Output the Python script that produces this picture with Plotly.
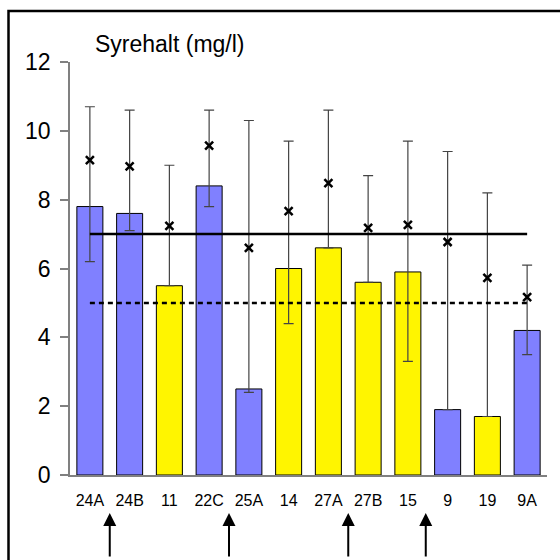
import plotly.graph_objects as go

categories = ["24A", "24B", "11", "22C", "25A", "14", "27A", "27B", "15", "9", "19", "9A"]
bar_values = [7.8, 7.6, 5.5, 8.4, 2.5, 6.0, 6.6, 5.6, 5.9, 1.9, 1.7, 4.2]
upper_values = [10.7, 10.6, 9.0, 10.6, 10.3, 9.7, 10.6, 8.7, 9.7, 9.4, 8.2, 6.1]
lower_values = [6.2, 7.1, 5.5, 7.8, 2.4, 4.4, 6.6, 5.6, 3.3, 1.9, 1.7, 3.5]
mean_values = [9.15, 8.97, 7.24, 9.57, 6.6, 7.67, 8.48, 7.18, 7.27, 6.77, 5.73, 5.17]
bar_group = ["b", "b", "y", "b", "b", "y", "y", "y", "y", "b", "y", "b"]
limit_solid = 7
limit_dashed = 5
arrow_positions = [0.5, 3.5, 6.5, 8.45]
y_ticks = [0, 2, 4, 6, 8, 10, 12]
title_text = "Syrehalt (mg/l)"

BLUE = "#8080FF"
YELLOW = "#FFF500"
colors = [BLUE if g == "b" else YELLOW for g in bar_group]

err_plus = [u - b for u, b in zip(upper_values, bar_values)]
err_minus = [b - l for b, l in zip(bar_values, lower_values)]

fig = go.Figure()
fig.add_trace(go.Bar(
    x=categories, y=bar_values,
    marker=dict(color=colors, line=dict(color="black", width=1)),
    error_y=dict(type="data", symmetric=False, array=err_plus, arrayminus=err_minus,
                 color="#444444", thickness=1.2, width=5),
    showlegend=False,
))
fig.add_trace(go.Scatter(
    x=[categories[0], categories[-1]], y=[limit_solid, limit_solid],
    mode="lines", line=dict(color="black", width=2.5), showlegend=False,
))
fig.add_trace(go.Scatter(
    x=[categories[0], categories[-1]], y=[limit_dashed, limit_dashed],
    mode="lines", line=dict(color="black", width=2.5, dash="5px,4px"), showlegend=False,
))
fig.add_trace(go.Scatter(
    x=categories, y=mean_values, mode="markers",
    marker=dict(symbol="x-thin", size=8, line=dict(color="black", width=2.5)),
    showlegend=False,
))

# plot area in pixels: x 70..547, y 62..475
L, R, T, B = 70, 547, 62, 475
def px_x(p):
    return (p - L) / (R - L)
def px_y(p):
    return (B - p) / (B - T)

annotations = [
    dict(text=title_text, xref="paper", yref="paper", x=px_x(93), y=px_y(44),
         xanchor="left", yanchor="middle", showarrow=False,
         font=dict(family="Liberation Sans, Arial", size=23, color="black")),
]
for a in arrow_positions:
    annotations.append(dict(
        x=a, y=px_y(513), xref="x", yref="paper", text="", showarrow=True,
        arrowhead=2, arrowsize=1.3, arrowwidth=2, arrowcolor="black",
        ax=0, ay=45,
    ))

fig.update_layout(
    width=560, height=560,
    margin=dict(l=L, r=560 - R, t=T, b=560 - B),
    paper_bgcolor="white", plot_bgcolor="white",
    bargap=0.345,
    font=dict(family="Liberation Sans, Arial", color="black"),
    annotations=annotations,
    shapes=[dict(type="path", xref="paper", yref="paper",
                 path=f"M {px_x(8.5)} {px_y(565)} L {px_x(8.5)} {px_y(11)} L {px_x(565)} {px_y(11)}",
                 line=dict(color="black", width=2.5))],
    xaxis=dict(
        range=[-0.5, 11.5], showgrid=False, zeroline=False,
        showline=True, linecolor="#808080", linewidth=1.5,
        ticks="outside", ticklen=10, tickcolor="rgba(0,0,0,0)",
        tickfont=dict(size=16, family="Liberation Sans, Arial"),
    ),
    yaxis=dict(
        range=[0, 12], tickvals=y_ticks, showgrid=False, zeroline=False,
        showline=True, linecolor="#808080", linewidth=1.5,
        ticks="outside", ticklen=8, tickcolor="#808080", tickwidth=1.5,
        ticklabelstandoff=5,
        tickfont=dict(size=23, family="Liberation Sans, Arial"),
    ),
)

fig.write_html("out.html")
